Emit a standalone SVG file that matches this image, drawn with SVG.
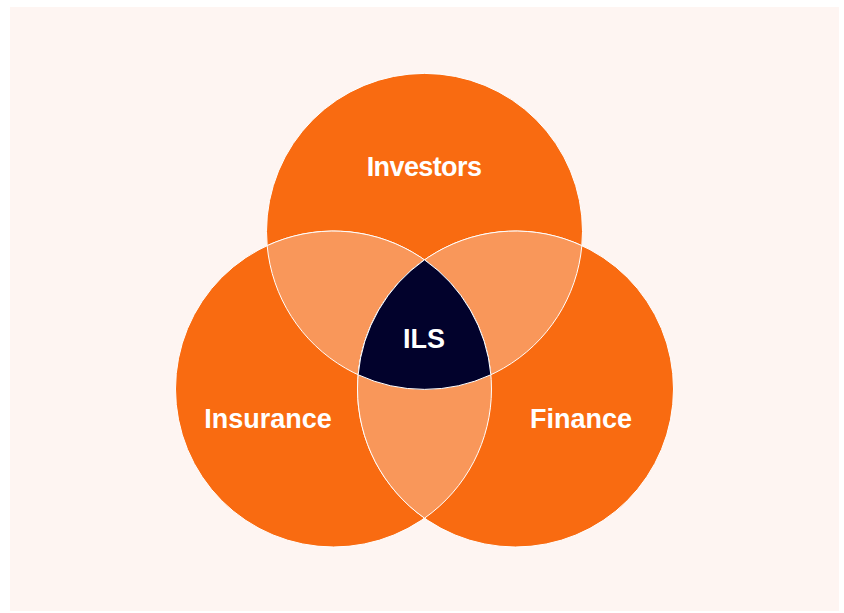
<svg xmlns="http://www.w3.org/2000/svg" width="844" height="613" viewBox="0 0 844 613">
  <style>
    .circle { fill: #F96B11; stroke: #FFFFFF; stroke-width: 1; }
    .lens { fill: #F9975A; stroke: #FFFFFF; stroke-width: 1; }
    .core { fill: #02022C; stroke: #FFFFFF; stroke-width: 1; }
    .label { fill: #FFFFFF; font-family: "Liberation Sans", Arial, sans-serif; font-weight: bold; font-size: 27px; text-anchor: middle; }
  </style>
  <rect x="0" y="0" width="844" height="613" fill="#FFFFFF"/>
  <rect x="10" y="7" width="829" height="604" fill="#FEF5F2"/>

  <g id="investors">
    <circle class="circle" cx="424.5" cy="231.4" r="158"/>
  </g>
  <g id="insurance">
    <circle class="circle" cx="333.5" cy="389" r="158"/>
  </g>
  <g id="finance">
    <circle class="circle" cx="515.5" cy="389" r="158"/>
  </g>

  <!-- pairwise overlaps -->
  <g id="overlaps">
    <path class="lens" d="M267.15,245.62 A158,158 0 0 1 490.85,374.78 A158,158 0 0 1 267.15,245.62 Z"/>
    <path class="lens" d="M358.15,374.78 A158,158 0 0 1 581.85,245.62 A158,158 0 0 1 358.15,374.78 Z"/>
    <path class="lens" d="M424.5,259.84 A158,158 0 0 1 424.5,518.16 A158,158 0 0 1 424.5,259.84 Z"/>
  </g>

  <!-- three-way overlap -->
  <g id="ils">
    <path class="core" d="M424.5,259.84 A158,158 0 0 1 490.85,374.78 A158,158 0 0 1 358.15,374.78 A158,158 0 0 1 424.5,259.84 Z"/>
  </g>

  <g id="labels">
    <text class="label" x="424" y="175.5" letter-spacing="-0.6">Investors</text>
    <text class="label" x="268" y="427.5">Insurance</text>
    <text class="label" x="581" y="427.5">Finance</text>
    <text class="label" x="424" y="348.3">ILS</text>
  </g>
</svg>
